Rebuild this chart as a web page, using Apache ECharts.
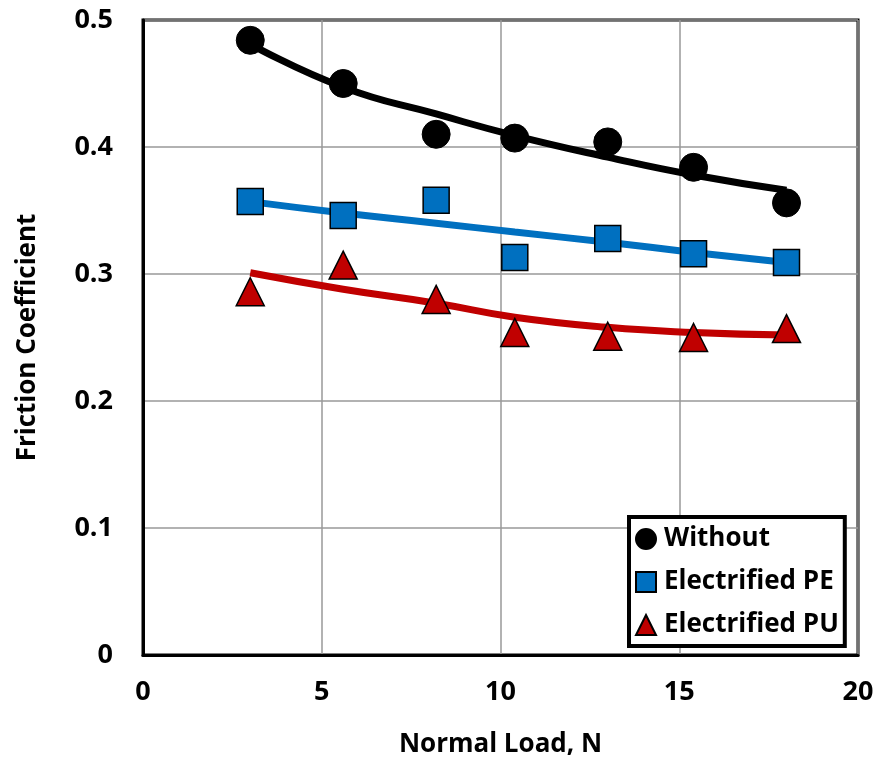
<!DOCTYPE html>
<html><head><meta charset="utf-8">
<script src="https://cdn.jsdelivr.net/npm/echarts@6/dist/echarts.min.js"></script>
<style>html,body{margin:0;padding:0;background:#fff}#c{width:882px;height:765px}</style>
</head><body><div id="c"></div>
<script>
const loads = [3, 5.6, 8.2, 10.4, 13, 15.4, 18];
const withoutVals = [0.484, 0.450, 0.410, 0.407, 0.404, 0.384, 0.356];
const peVals = [0.357, 0.346, 0.358, 0.313, 0.328, 0.316, 0.309];
const puVals = [0.286, 0.307, 0.280, 0.254, 0.251, 0.250, 0.257];
// trend lines
const withoutTrend = [0.481, 0.447, 0.426, 0.409, 0.392, 0.378, 0.366];
const peTrend = [0.357, 0.348, 0.340, 0.333, 0.325, 0.317, 0.309];
const puTrend = [0.301, 0.288, 0.277, 0.266, 0.258, 0.254, 0.252];
const seriesNames = ['Without', 'Electrified PE', 'Electrified PU'];
const xTicks = [0, 5, 10, 15, 20];
const yTicks = [0, 0.1, 0.2, 0.3, 0.4, 0.5];

const pair = (xs, ys) => xs.map((x, i) => [x, ys[i]]);
const font = '"Open Sans", sans-serif';
const chart = echarts.init(document.getElementById('c'), null, {renderer: 'canvas'});
chart.setOption({
  animation: false,
  grid: {left: 143, right: 24, top: 20, bottom: 110, show: true, borderColor: '#000', borderWidth: 3, backgroundColor: '#fff', z: 0},
  xAxis: {
    type: 'value', min: xTicks[0], max: xTicks[xTicks.length - 1], interval: 5,
    name: 'Normal Load, N', nameLocation: 'middle', nameGap: 77,
    nameTextStyle: {fontFamily: font, fontWeight: 'bold', fontSize: 26, color: '#000'},
    axisLine: {show: true, lineStyle: {color: '#000', width: 3}},
    axisTick: {show: false},
    axisLabel: {fontFamily: font, fontWeight: 'bold', fontSize: 27, color: '#000', margin: 24},
    splitLine: {show: true, lineStyle: {color: '#999', width: 1.5}}
  },
  yAxis: {
    type: 'value', min: yTicks[0], max: yTicks[yTicks.length - 1], interval: 0.1,
    name: 'Friction Coefficient', nameLocation: 'middle', nameGap: 102,
    nameTextStyle: {fontFamily: font, fontWeight: 'bold', fontSize: 26, color: '#000'},
    axisLine: {show: true, lineStyle: {color: '#000', width: 3}},
    axisTick: {show: false},
    axisLabel: {fontFamily: font, fontWeight: 'bold', fontSize: 27, color: '#000', margin: 30},
    splitLine: {show: true, lineStyle: {color: '#999', width: 1.5}}
  },
  legend: {
    orient: 'vertical', left: 629, top: 517,
    backgroundColor: '#fff', borderColor: '#000', borderWidth: 4,
    padding: [9, 6, 8, 6], itemGap: 17, itemWidth: 20, itemHeight: 20,
    textStyle: {fontFamily: font, fontWeight: 'bold', fontSize: 26, color: '#000', padding: [0, 0, 0, 3]},
    data: [
      {name: seriesNames[0], icon: 'circle'},
      {name: seriesNames[1], icon: 'rect'},
      {name: seriesNames[2], icon: 'triangle'}
    ]
  },
  series: [
    {type: 'line', data: pair(loads, withoutTrend), smooth: true, showSymbol: false, lineStyle: {color: '#000', width: 7}, z: 2, silent: true},
    {type: 'line', data: pair(loads, peTrend), smooth: true, showSymbol: false, lineStyle: {color: '#0070C0', width: 7}, z: 2, silent: true},
    {type: 'line', data: pair(loads, puTrend), smooth: true, showSymbol: false, lineStyle: {color: '#C00000', width: 7}, z: 2, silent: true},
    {name: seriesNames[0], type: 'scatter', data: pair(loads, withoutVals), symbol: 'circle', symbolSize: 28,
      itemStyle: {color: '#000', borderColor: '#000', borderWidth: 1, opacity: 1}, z: 5},
    {name: seriesNames[1], type: 'scatter', data: pair(loads, peVals), symbol: 'rect', symbolSize: 26,
      itemStyle: {color: '#0070C0', borderColor: '#000', borderWidth: 1.5, opacity: 1}, z: 5},
    {name: seriesNames[2], type: 'scatter', data: pair(loads, puVals), symbol: 'triangle', symbolSize: 28,
      itemStyle: {color: '#C00000', borderColor: '#000', borderWidth: 1.5, opacity: 1}, z: 5}
  ]
});
</script></body></html>
